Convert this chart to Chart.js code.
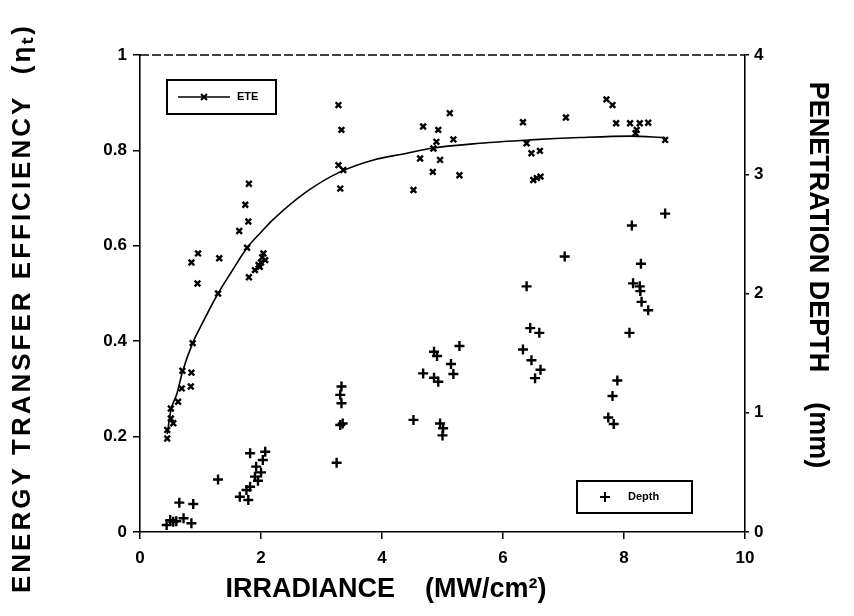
<!DOCTYPE html>
<html><head><meta charset="utf-8">
<script src="https://cdn.jsdelivr.net/npm/chart.js@4/dist/chart.umd.min.js"></script>
<style>html,body{margin:0;padding:0;background:#fff}#wrap{width:854px;height:616px}</style>
</head><body><div id="wrap"><canvas id="c" width="854" height="616"></canvas></div>
<script>
// ETE measurements (x = irradiance MW/cm², y = efficiency)
const eteX = [0.45,0.45,0.55,0.51,0.51,0.63,0.69,0.84,0.85,0.70,0.87,
  1.29,0.95,0.85,0.96,1.31,1.64,1.79,1.80,1.74,1.77,2.04,2.07,1.96,1.90,1.98,2.00,1.80,2.02,
  3.28,3.33,3.28,3.36,3.31,
  4.52,4.63,4.68,4.93,5.12,5.18,4.90,4.85,4.96,4.84,5.28,
  6.33,7.04,7.71,7.81,7.87,8.10,8.26,8.40,8.21,8.19,8.68,6.39,6.47,6.61,6.50,6.56,6.62];
const eteY = [0.196,0.214,0.228,0.238,0.259,0.273,0.301,0.305,0.334,0.338,0.396,
  0.500,0.521,0.565,0.584,0.574,0.631,0.651,0.730,0.686,0.596,0.584,0.570,0.560,0.549,0.556,0.565,0.534,0.576,
  0.895,0.843,0.769,0.759,0.720,
  0.717,0.783,0.850,0.843,0.878,0.823,0.818,0.804,0.780,0.755,0.748,
  0.859,0.869,0.907,0.895,0.857,0.857,0.857,0.858,0.843,0.836,0.822,0.815,0.794,0.799,0.738,0.742,0.745];
// fitted ETE curve
const fitX = [0.45,0.51,0.61,0.70,0.87,1.00,1.29,1.50,1.77,2.01,2.20,2.76,3.31,3.86,4.41,4.79,5.62,6.45,7.27,8.10,8.68];
const fitY = [0.205,0.255,0.290,0.335,0.396,0.430,0.500,0.543,0.596,0.630,0.655,0.714,0.755,0.780,0.794,0.804,0.815,0.822,0.827,0.830,0.827];
// penetration depth (mm)
const depthX = [0.65,0.88,0.50,0.55,0.72,0.85,0.44,0.60,
  1.29,1.82,2.07,2.03,1.92,1.90,1.82,1.76,1.65,1.79,2.00,1.95,
  3.25,3.31,3.33,3.33,3.35,3.31,
  4.52,4.86,4.91,5.14,5.18,4.86,4.93,5.28,4.96,5.01,5.00,4.68,
  7.02,6.39,6.45,6.60,6.33,6.47,6.62,6.53,
  8.13,8.28,8.15,8.26,8.27,8.29,8.40,8.09,7.89,7.81,7.74,7.83,8.68];
const depthY = [0.246,0.235,0.100,0.086,0.115,0.073,0.059,0.090,
  0.44,0.66,0.673,0.604,0.548,0.464,0.38,0.352,0.296,0.268,0.50,0.43,
  0.581,0.897,1.22,1.08,0.91,1.15,
  0.94,1.512,1.476,1.409,1.325,1.294,1.26,1.56,0.91,0.87,0.81,1.33,
  2.31,2.06,1.71,1.67,1.53,1.44,1.36,1.29,
  2.57,2.25,2.085,2.06,2.02,1.93,1.86,1.67,1.27,1.14,0.96,0.906,2.67];
const xTicks = [0,2,4,6,8,10];
const yTicks = [0,0.2,0.4,0.6,0.8,1];
const y2Ticks = [0,1,2,3,4];
const xTitle = 'IRRADIANCE    (MW/cm\u00B2)';
const yTitle = 'ENERGY TRANSFER EFFICIENCY  (\u03B7\u209C)';
const y2Title = 'PENETRATION DEPTH    (mm)';

const pts = (xs, ys) => xs.map((x, i) => ({x, y: ys[i]}));
const FONT = '"Liberation Sans", Arial, sans-serif';
const tickFont = {family: FONT, size: 17, weight: 'bold'};

const decor = {
  id: 'decor',
  afterDatasetsDraw(chart) {
    const ctx = chart.ctx, a = chart.chartArea;
    ctx.save();
    ctx.strokeStyle = '#000'; ctx.fillStyle = '#000';
    // top border (broken line as in scan)
    ctx.lineWidth = 1.3; ctx.setLineDash([9, 3]);
    ctx.beginPath(); ctx.moveTo(a.left, a.top); ctx.lineTo(a.right, a.top); ctx.stroke();
    ctx.setLineDash([]);
    // legend ETE
    ctx.lineWidth = 2;
    ctx.strokeRect(167, 80, 109, 34);
    ctx.lineWidth = 1.3;
    ctx.beginPath(); ctx.moveTo(178, 97); ctx.lineTo(230, 97); ctx.stroke();
    ctx.lineWidth = 2;
    ctx.beginPath(); ctx.moveTo(201, 94); ctx.lineTo(207, 100); ctx.moveTo(207, 94); ctx.lineTo(201, 100); ctx.stroke();
    ctx.font = 'bold 11px ' + FONT; ctx.textBaseline = 'middle'; ctx.textAlign = 'left';
    ctx.fillText('ETE', 237, 97);
    // legend Depth
    ctx.strokeRect(577, 481, 115, 32);
    ctx.beginPath(); ctx.moveTo(600, 497); ctx.lineTo(610, 497); ctx.moveTo(605, 492); ctx.lineTo(605, 502); ctx.stroke();
    ctx.fillText('Depth', 628, 497);
    // axis titles
    ctx.textAlign = 'center'; ctx.textBaseline = 'middle';
    ctx.font = 'bold 27px ' + FONT;
    ctx.fillText(xTitle, 386, 590);
    ctx.save(); ctx.translate(23, 308); ctx.rotate(-Math.PI / 2);
    ctx.font = 'bold 26px ' + FONT;
    try { ctx.letterSpacing = '3px'; } catch (e) {}
    ctx.fillText(yTitle, 0, 0); ctx.restore();
    ctx.save(); ctx.translate(817, 275); ctx.rotate(Math.PI / 2);
    ctx.font = 'bold 27px ' + FONT;
    ctx.fillText(y2Title, 0, 0); ctx.restore();
    ctx.restore();
  }
};

new Chart(document.getElementById('c'), {
  type: 'scatter',
  data: {
    datasets: [
      {label: 'ETE fit', type: 'line', data: pts(fitX, fitY), yAxisID: 'y', borderColor: '#000', borderWidth: 1.6,
       pointRadius: 0, tension: 0.4, cubicInterpolationMode: 'monotone', fill: false},
      {label: 'ETE', data: pts(eteX, eteY), yAxisID: 'y', pointStyle: 'crossRot', pointRadius: 4,
       borderColor: '#000', backgroundColor: '#000', borderWidth: 2.4},
      {label: 'Depth', data: pts(depthX, depthY), yAxisID: 'y2', pointStyle: 'cross', pointRadius: 5,
       borderColor: '#000', backgroundColor: '#000', borderWidth: 2.4}
    ]
  },
  options: {
    responsive: false, animation: false, devicePixelRatio: 1,
    layout: {padding: {top: 55, left: 0, right: 0, bottom: 0}},
    plugins: {legend: {display: false}, tooltip: {enabled: false}},
    scales: {
      x: {type: 'linear', position: 'bottom', min: 0, max: 10,
        afterBuildTicks: s => { s.ticks = xTicks.map(v => ({value: v})); },
        afterFit: s => { s.height = 84; },
        ticks: {font: tickFont, color: '#000', padding: 9, maxRotation: 0},
        grid: {display: true, drawOnChartArea: false, drawTicks: true, tickLength: 7, color: '#000', lineWidth: 1.5},
        border: {display: true, color: '#000', width: 1.6}},
      y: {type: 'linear', position: 'left', min: 0, max: 1,
        afterBuildTicks: s => { s.ticks = yTicks.map(v => ({value: v})); },
        afterFit: s => { s.width = 140; },
        ticks: {font: tickFont, color: '#000', padding: 6, callback: v => String(+v.toFixed(1))},
        grid: {display: true, drawOnChartArea: false, drawTicks: true, tickLength: 7, color: '#000', lineWidth: 1.5},
        border: {display: true, color: '#000', width: 1.6}},
      y2: {type: 'linear', position: 'right', min: 0, max: 4,
        afterBuildTicks: s => { s.ticks = y2Ticks.map(v => ({value: v})); },
        afterFit: s => { s.width = 109; },
        ticks: {font: tickFont, color: '#000', padding: 5},
        grid: {display: true, drawOnChartArea: false, drawTicks: true, tickLength: 4, color: '#000', lineWidth: 1.5},
        border: {display: true, color: '#000', width: 1.6}}
    }
  },
  plugins: [decor]
});
</script>
</body></html>
